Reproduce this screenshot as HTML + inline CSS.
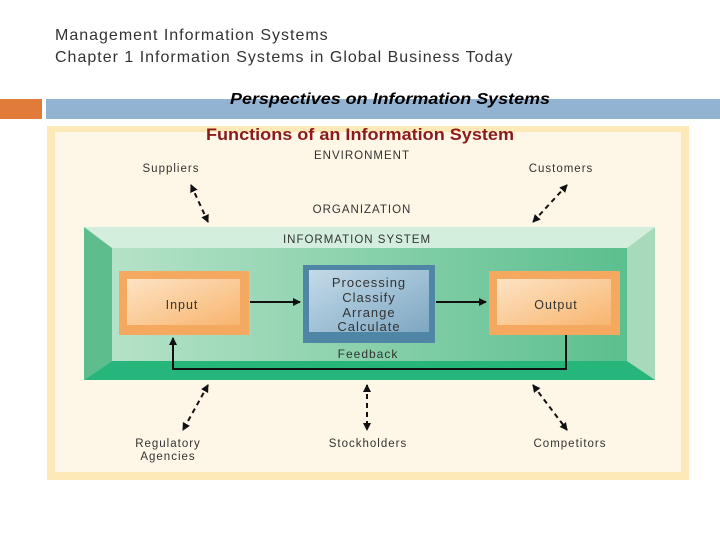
<!DOCTYPE html>
<html><head><style>
body{margin:0;width:720px;height:540px;background:#fff;position:relative;overflow:hidden;font-family:"Liberation Sans",sans-serif}
.t{position:absolute;font-size:16px;color:#333;letter-spacing:1px}
</style></head><body>
<div class="t" style="left:55px;top:27px">Management Information Systems</div>
<div class="t" style="left:55px;top:49px">Chapter 1 Information Systems in Global Business Today</div>
<div style="position:absolute;left:0;top:99px;width:42px;height:20px;background:#e07b39"></div>
<div style="position:absolute;left:46px;top:99px;width:674px;height:20px;background:#93b3d3"></div>
<svg style="position:absolute;left:0;top:0" width="720" height="540">
<defs>
<marker id="a" markerWidth="8" markerHeight="8" refX="7" refY="4" orient="auto-start-reverse" markerUnits="userSpaceOnUse"><path d="M0,0L8,4L0,8z" fill="#111"/></marker>
<linearGradient id="og" x1="0" y1="0" x2="1" y2="1"><stop offset="0" stop-color="#fde3c4"/><stop offset="1" stop-color="#f8b56f"/></linearGradient>
<linearGradient id="bg" x1="0" y1="0" x2="1" y2="1"><stop offset="0" stop-color="#c4dbe9"/><stop offset="1" stop-color="#7ea7c2"/></linearGradient>
<linearGradient id="gg" x1="0" y1="0" x2="1" y2="0"><stop offset="0" stop-color="#b5e2c8"/><stop offset="1" stop-color="#5cbf8e"/></linearGradient>
</defs>
<rect x="47" y="126" width="642" height="354" fill="#fde9b8"/>
<rect x="55" y="132" width="626" height="340" fill="#fef6e6"/>
<polygon points="84,227 655,227 627,248 112,248" fill="#d3eedd"/>
<polygon points="84,227 112,248 112,361 84,380" fill="#5dbd8c"/>
<polygon points="655,227 627,248 627,361 655,380" fill="#a6dabb"/>
<polygon points="84,380 112,361 627,361 655,380" fill="#26b57a"/>
<rect x="112" y="248" width="515" height="113" fill="url(#gg)"/>
<rect x="119" y="271" width="130" height="64" fill="#f5a860"/>
<rect x="127" y="279" width="113" height="46" fill="url(#og)"/>
<rect x="489" y="271" width="131" height="64" fill="#f5a860"/>
<rect x="497" y="279" width="114" height="46" fill="url(#og)"/>
<rect x="303" y="265" width="132" height="78" fill="#4f86a6"/>
<rect x="309" y="270" width="120" height="62" fill="url(#bg)"/>
<g stroke="#111" stroke-width="2" fill="none">
<line x1="250" y1="302" x2="300" y2="302" marker-end="url(#a)"/>
<line x1="436" y1="302" x2="486" y2="302" marker-end="url(#a)"/>
<polyline points="566,335 566,369 173,369 173,338" marker-end="url(#a)"/>
<g stroke-dasharray="5,4">
<line x1="191" y1="185" x2="208" y2="222" marker-start="url(#a)" marker-end="url(#a)"/>
<line x1="567" y1="185" x2="533" y2="222" marker-start="url(#a)" marker-end="url(#a)"/>
<line x1="208" y1="385" x2="183" y2="430" marker-start="url(#a)" marker-end="url(#a)"/>
<line x1="367" y1="385" x2="367" y2="430" marker-start="url(#a)" marker-end="url(#a)"/>
<line x1="533" y1="385" x2="567" y2="430" marker-start="url(#a)" marker-end="url(#a)"/>
</g></g>
<g font-family="Liberation Sans,sans-serif" fill="#333" font-size="12" text-anchor="middle" letter-spacing="1">
<text x="390" y="104" font-size="16" font-weight="bold" font-style="italic" fill="#000" letter-spacing="0" textLength="320" lengthAdjust="spacingAndGlyphs">Perspectives on Information Systems</text>
<text x="360" y="140" font-size="17" font-weight="bold" fill="#8b1a1a" letter-spacing="0" textLength="308" lengthAdjust="spacingAndGlyphs">Functions of an Information System</text>
<text x="362" y="159" font-size="11.5">ENVIRONMENT</text>
<text x="171" y="172" font-size="11.5">Suppliers</text>
<text x="561" y="172" font-size="11.5">Customers</text>
<text x="362" y="213" font-size="11.5">ORGANIZATION</text>
<text x="357" y="243" font-size="11.5">INFORMATION SYSTEM</text>
<text x="182" y="309" font-size="12.5">Input</text>
<text x="556" y="309" font-size="12.5">Output</text>
<text x="369" y="287" font-size="13">Processing</text>
<text x="369" y="302" font-size="13">Classify</text>
<text x="369" y="317" font-size="13">Arrange</text>
<text x="369" y="331" font-size="13">Calculate</text>
<text x="368" y="358" font-size="12">Feedback</text>
<text x="168" y="447" font-size="11.5">Regulatory</text>
<text x="168" y="460" font-size="11.5">Agencies</text>
<text x="368" y="447" font-size="11.5">Stockholders</text>
<text x="570" y="447" font-size="11.5">Competitors</text>
</g>
</svg>
</body></html>
